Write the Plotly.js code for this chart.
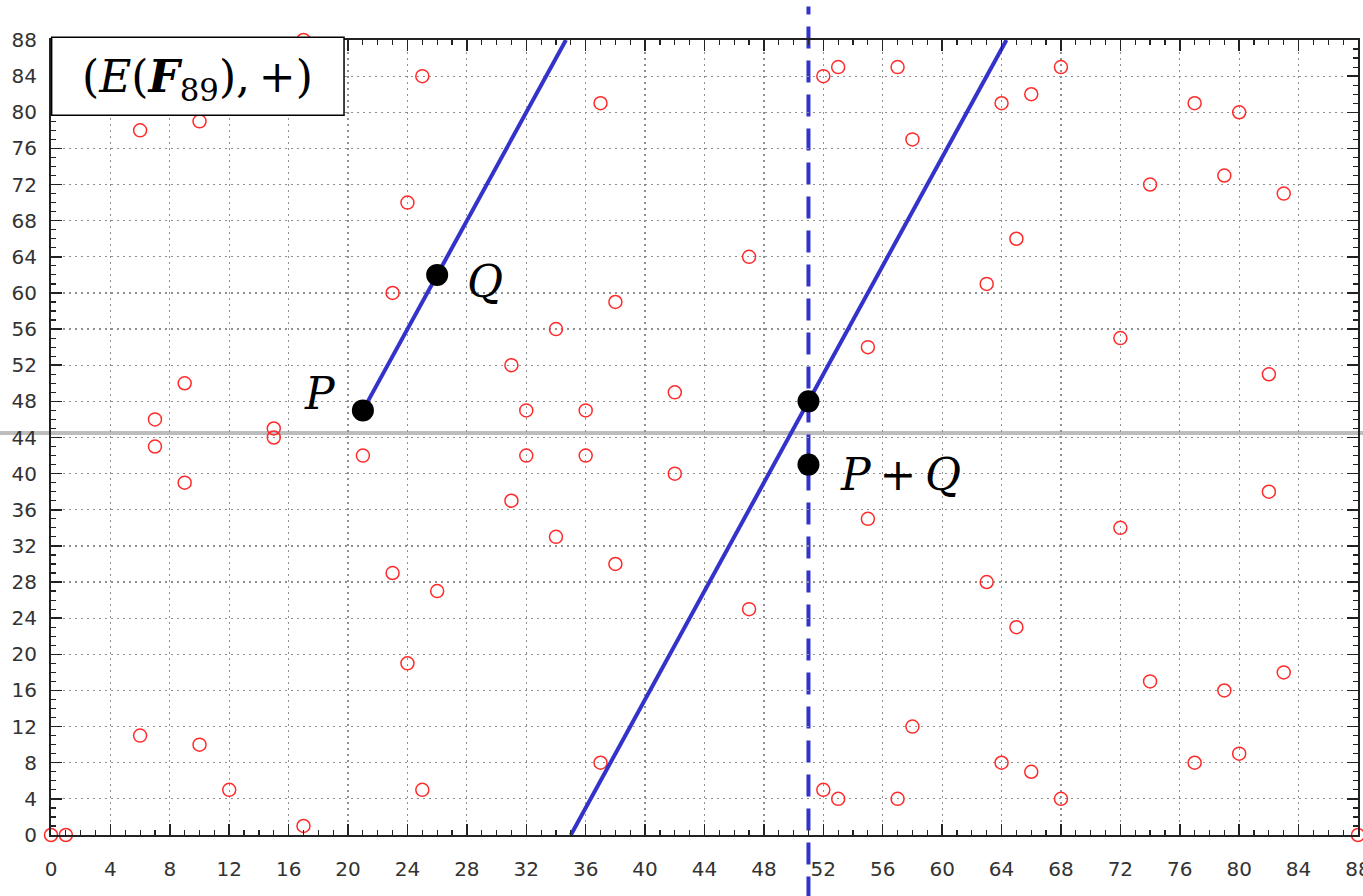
<!DOCTYPE html>
<html>
<head>
<meta charset="utf-8">
<script src="https://cdn.plot.ly/plotly-3.0.1.min.js"></script>
<style>
  html, body { margin: 0; padding: 0; background: #fff; }
  #chart { width: 1363px; height: 896px; }
</style>
</head>
<body>
<div id="chart"></div>
<script>
// Points of the curve E: y^2 = x^3 - x over F_89
const curveX = [0, 1, 88,
  6, 6, 7, 7, 9, 9, 10, 10, 12, 12, 15, 15, 17, 17,
  21, 21, 23, 23, 24, 24, 25, 25, 26, 26, 31, 31, 32, 32,
  34, 34, 36, 36, 37, 37, 38, 38, 42, 42, 47, 47, 51, 51,
  52, 52, 53, 53, 55, 55, 57, 57, 58, 58, 63, 63, 64, 64,
  65, 65, 66, 66, 68, 68, 72, 72, 74, 74, 77, 77, 79, 79,
  80, 80, 82, 82, 83, 83];
const curveY = [0, 0, 0,
  11, 78, 43, 46, 39, 50, 10, 79, 5, 84, 44, 45, 1, 88,
  42, 47, 29, 60, 19, 70, 5, 84, 27, 62, 37, 52, 42, 47,
  33, 56, 42, 47, 8, 81, 30, 59, 40, 49, 25, 64, 41, 48,
  5, 84, 4, 85, 35, 54, 4, 85, 12, 77, 28, 61, 8, 81,
  23, 66, 7, 82, 4, 85, 34, 55, 17, 72, 8, 81, 16, 73,
  9, 80, 38, 51, 18, 71];

// Chord through P and Q, wrapped modulo 89 (two visible pieces)
const chordX = [21, 34.67, null, 35, 64.33];
const chordY = [47, 88, null, 0, 88];

// P, Q, third intersection R, and P + Q (reflection of R)
const keyX = [21, 26, 51, 51];
const keyY = [47, 62, 48, 41];

const symmetryY = 44.5;   // y = p/2, axis of symmetry
const sumX = 51;          // vertical through R and P + Q

const tickVals = [];
for (let v = 0; v <= 88; v += 4) tickVals.push(v);

const axisCommon = {
  range: [0, 88],
  tickvals: tickVals,
  ticks: 'inside',
  ticklen: 11,
  tickwidth: 1.5,
  tickcolor: '#222',
  showline: true,
  linecolor: '#222',
  linewidth: 2,
  mirror: 'allticks',
  showgrid: true,
  gridcolor: '#8f8f8f',
  gridwidth: 1.2,
  griddash: '2px,4px',
  zeroline: false,
  ticklabeloverflow: 'allow',
  tickfont: { family: 'DejaVu Sans', size: 20, color: '#333' },
  minor: { dtick: 1, ticks: 'inside', ticklen: 5, tickwidth: 1.2, tickcolor: '#222', showgrid: false },
  fixedrange: true
};

const traces = [
  {
    x: curveX, y: curveY,
    type: 'scatter', mode: 'markers',
    marker: { symbol: 'circle-open', size: 13, color: '#ff2b2b', line: { width: 1.5, color: '#ff2b2b' } },
    cliponaxis: false, hoverinfo: 'x+y'
  },
  {
    x: chordX, y: chordY,
    type: 'scatter', mode: 'lines',
    line: { color: '#3333cc', width: 4 },
    connectgaps: false, cliponaxis: false, hoverinfo: 'skip'
  },
  {
    x: keyX, y: keyY,
    type: 'scatter', mode: 'markers',
    marker: { symbol: 'circle', size: 22, color: '#000' },
    cliponaxis: false, hoverinfo: 'x+y'
  }
];

const mathFont = { family: 'DejaVu Serif', size: 44, color: '#000' };
const thin = '\u2009';

const layout = {
  width: 1363, height: 896,
  margin: { l: 51, r: 5, t: 40, b: 61, pad: 0 },
  paper_bgcolor: '#fff',
  plot_bgcolor: '#fff',
  showlegend: false,
  xaxis: Object.assign({}, axisCommon, { ticklabelstandoff: 15 }),
  yaxis: Object.assign({}, axisCommon, { ticklabelstandoff: 8 }),
  shapes: [
    { type: 'line', layer: 'below', xref: 'paper', yref: 'y', x0: -0.05, x1: 1.05,
      y0: symmetryY, y1: symmetryY, line: { color: '#bdbdbd', width: 4 } },
    { type: 'line', layer: 'below', xref: 'x', yref: 'paper', x0: sumX, x1: sumX,
      y0: -0.08, y1: 1.042, line: { color: '#3333cc', width: 4, dash: '22px,12px' } },
    { type: 'rect', layer: 'above', xref: 'paper', yref: 'paper',
      x0: 0.0005, x1: 0.2242, y0: 0.9053, y1: 1.0034,
      fillcolor: '#fff', line: { color: '#000', width: 1.5 } }
  ],
  annotations: [
    { xref: 'paper', yref: 'paper', x: 0.1121, y: 0.9497, xanchor: 'center', yanchor: 'middle',
      text: '(<i>E</i>(<b><i>F</i></b><sub>89</sub>),' + thin + '+)', showarrow: false, font: mathFont },
    { xref: 'x', yref: 'y', x: 18.1, y: 48.9, xanchor: 'center', yanchor: 'middle',
      text: '<i>P</i>', showarrow: false, font: mathFont },
    { xref: 'x', yref: 'y', x: 29.2, y: 61.3, xanchor: 'center', yanchor: 'middle',
      text: '<i>Q</i>', showarrow: false, font: mathFont },
    { xref: 'x', yref: 'y', x: 57.2, y: 39.9, xanchor: 'center', yanchor: 'middle',
      text: '<i>P</i>' + thin + '+' + thin + '<i>Q</i>', showarrow: false, font: mathFont }
  ]
};

Plotly.newPlot('chart', traces, layout, { staticPlot: true, displayModeBar: false });
</script>
</body>
</html>
